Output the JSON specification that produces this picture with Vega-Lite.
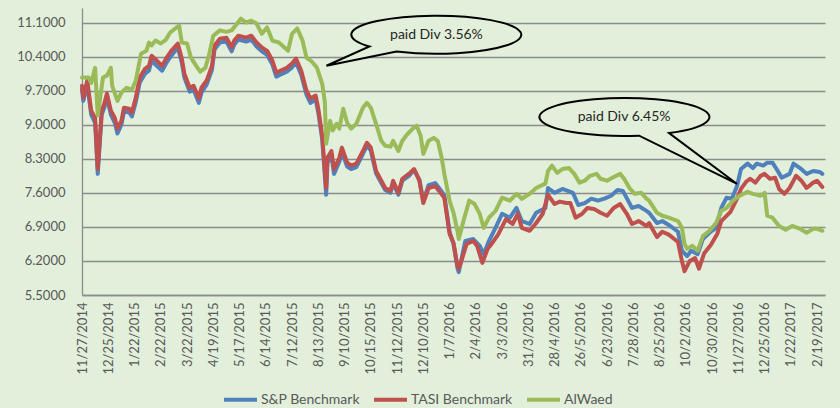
{
  "$schema": "https://vega.github.io/schema/vega-lite/v6.json",
  "width": 743,
  "height": 287,
  "autosize": {"type": "none"},
  "padding": {"left": 82, "top": 8, "right": 15, "bottom": 113},
  "background": "#E2EFDA",
  "config": {"view": {"stroke": null}, "font": "Lato"},
  "datasets": {
    "series": [
      {"series":"S&P Benchmark","i":0,"value":9.72},{"series":"S&P Benchmark","i":1,"value":9.49},{"series":"S&P Benchmark","i":4,"value":9.83},{"series":"S&P Benchmark","i":7,"value":9.21},{"series":"S&P Benchmark","i":10,"value":9.04},{"series":"S&P Benchmark","i":12,"value":7.99},{"series":"S&P Benchmark","i":15,"value":9.21},{"series":"S&P Benchmark","i":17,"value":9.35},{"series":"S&P Benchmark","i":19,"value":9.56},{"series":"S&P Benchmark","i":22,"value":9.21},{"series":"S&P Benchmark","i":25,"value":9.04},{"series":"S&P Benchmark","i":27,"value":8.82},{"series":"S&P Benchmark","i":30,"value":9.0},{"series":"S&P Benchmark","i":32,"value":9.27},{"series":"S&P Benchmark","i":36,"value":9.25},{"series":"S&P Benchmark","i":38,"value":9.17},{"series":"S&P Benchmark","i":41,"value":9.47},{"series":"S&P Benchmark","i":44,"value":9.87},{"series":"S&P Benchmark","i":48,"value":10.05},{"series":"S&P Benchmark","i":51,"value":10.11},{"series":"S&P Benchmark","i":53,"value":10.32},{"series":"S&P Benchmark","i":57,"value":10.21},{"series":"S&P Benchmark","i":61,"value":10.11},{"series":"S&P Benchmark","i":64,"value":10.26},{"series":"S&P Benchmark","i":68,"value":10.42},{"series":"S&P Benchmark","i":73,"value":10.59},{"series":"S&P Benchmark","i":76,"value":10.28},{"series":"S&P Benchmark","i":78,"value":9.97},{"series":"S&P Benchmark","i":82,"value":9.68},{"series":"S&P Benchmark","i":85,"value":9.72},{"series":"S&P Benchmark","i":89,"value":9.45},{"series":"S&P Benchmark","i":91,"value":9.66},{"series":"S&P Benchmark","i":95,"value":9.83},{"series":"S&P Benchmark","i":99,"value":10.13},{"series":"S&P Benchmark","i":101,"value":10.55},{"series":"S&P Benchmark","i":105,"value":10.69},{"series":"S&P Benchmark","i":110,"value":10.71},{"series":"S&P Benchmark","i":114,"value":10.51},{"series":"S&P Benchmark","i":116,"value":10.65},{"series":"S&P Benchmark","i":119,"value":10.75},{"series":"S&P Benchmark","i":125,"value":10.71},{"series":"S&P Benchmark","i":129,"value":10.75},{"series":"S&P Benchmark","i":133,"value":10.61},{"series":"S&P Benchmark","i":137,"value":10.51},{"series":"S&P Benchmark","i":141,"value":10.44},{"series":"S&P Benchmark","i":145,"value":10.24},{"series":"S&P Benchmark","i":148,"value":9.99},{"series":"S&P Benchmark","i":151,"value":10.03},{"series":"S&P Benchmark","i":156,"value":10.09},{"series":"S&P Benchmark","i":160,"value":10.18},{"series":"S&P Benchmark","i":163,"value":10.28},{"series":"S&P Benchmark","i":167,"value":10.03},{"series":"S&P Benchmark","i":171,"value":9.62},{"series":"S&P Benchmark","i":174,"value":9.45},{"series":"S&P Benchmark","i":178,"value":9.52},{"series":"S&P Benchmark","i":180,"value":9.25},{"series":"S&P Benchmark","i":183,"value":8.69},{"series":"S&P Benchmark","i":186,"value":7.56},{"series":"S&P Benchmark","i":187,"value":8.22},{"series":"S&P Benchmark","i":190,"value":8.36},{"series":"S&P Benchmark","i":192,"value":7.99},{"series":"S&P Benchmark","i":196,"value":8.24},{"series":"S&P Benchmark","i":198,"value":8.44},{"series":"S&P Benchmark","i":202,"value":8.14},{"series":"S&P Benchmark","i":205,"value":8.09},{"series":"S&P Benchmark","i":209,"value":8.13},{"series":"S&P Benchmark","i":214,"value":8.4},{"series":"S&P Benchmark","i":217,"value":8.57},{"series":"S&P Benchmark","i":220,"value":8.47},{"series":"S&P Benchmark","i":224,"value":8.0},{"series":"S&P Benchmark","i":228,"value":7.8},{"series":"S&P Benchmark","i":231,"value":7.66},{"series":"S&P Benchmark","i":235,"value":7.6},{"series":"S&P Benchmark","i":237,"value":7.8},{"series":"S&P Benchmark","i":241,"value":7.56},{"series":"S&P Benchmark","i":244,"value":7.85},{"series":"S&P Benchmark","i":249,"value":7.95},{"series":"S&P Benchmark","i":253,"value":8.07},{"series":"S&P Benchmark","i":257,"value":7.87},{"series":"S&P Benchmark","i":260,"value":7.43},{"series":"S&P Benchmark","i":264,"value":7.76},{"series":"S&P Benchmark","i":269,"value":7.8},{"series":"S&P Benchmark","i":272,"value":7.7},{"series":"S&P Benchmark","i":276,"value":7.55},{"series":"S&P Benchmark","i":280,"value":6.8},{"series":"S&P Benchmark","i":283,"value":6.55},{"series":"S&P Benchmark","i":286,"value":6.06},{"series":"S&P Benchmark","i":287,"value":5.97},{"series":"S&P Benchmark","i":292,"value":6.61},{"series":"S&P Benchmark","i":298,"value":6.65},{"series":"S&P Benchmark","i":303,"value":6.51},{"series":"S&P Benchmark","i":306,"value":6.34},{"series":"S&P Benchmark","i":310,"value":6.61},{"series":"S&P Benchmark","i":315,"value":6.88},{"series":"S&P Benchmark","i":320,"value":7.17},{"series":"S&P Benchmark","i":326,"value":7.09},{"series":"S&P Benchmark","i":331,"value":7.29},{"series":"S&P Benchmark","i":335,"value":7.02},{"series":"S&P Benchmark","i":341,"value":6.96},{"series":"S&P Benchmark","i":346,"value":7.19},{"series":"S&P Benchmark","i":353,"value":7.29},{"series":"S&P Benchmark","i":355,"value":7.7},{"series":"S&P Benchmark","i":360,"value":7.6},{"series":"S&P Benchmark","i":366,"value":7.68},{"series":"S&P Benchmark","i":370,"value":7.64},{"series":"S&P Benchmark","i":374,"value":7.6},{"series":"S&P Benchmark","i":378,"value":7.35},{"series":"S&P Benchmark","i":383,"value":7.39},{"series":"S&P Benchmark","i":388,"value":7.48},{"series":"S&P Benchmark","i":393,"value":7.44},{"series":"S&P Benchmark","i":398,"value":7.48},{"series":"S&P Benchmark","i":403,"value":7.54},{"series":"S&P Benchmark","i":408,"value":7.66},{"series":"S&P Benchmark","i":412,"value":7.64},{"series":"S&P Benchmark","i":416,"value":7.44},{"series":"S&P Benchmark","i":419,"value":7.29},{"series":"S&P Benchmark","i":424,"value":7.33},{"series":"S&P Benchmark","i":430,"value":7.23},{"series":"S&P Benchmark","i":432,"value":7.19},{"series":"S&P Benchmark","i":438,"value":6.98},{"series":"S&P Benchmark","i":442,"value":7.02},{"series":"S&P Benchmark","i":447,"value":6.94},{"series":"S&P Benchmark","i":454,"value":6.8},{"series":"S&P Benchmark","i":457,"value":6.41},{"series":"S&P Benchmark","i":461,"value":6.3},{"series":"S&P Benchmark","i":464,"value":6.41},{"series":"S&P Benchmark","i":469,"value":6.34},{"series":"S&P Benchmark","i":473,"value":6.65},{"series":"S&P Benchmark","i":478,"value":6.78},{"series":"S&P Benchmark","i":483,"value":6.88},{"series":"S&P Benchmark","i":487,"value":7.29},{"series":"S&P Benchmark","i":491,"value":7.5},{"series":"S&P Benchmark","i":495,"value":7.48},{"series":"S&P Benchmark","i":499,"value":7.74},{"series":"S&P Benchmark","i":502,"value":8.09},{"series":"S&P Benchmark","i":507,"value":8.2},{"series":"S&P Benchmark","i":511,"value":8.11},{"series":"S&P Benchmark","i":514,"value":8.2},{"series":"S&P Benchmark","i":519,"value":8.16},{"series":"S&P Benchmark","i":522,"value":8.22},{"series":"S&P Benchmark","i":526,"value":8.22},{"series":"S&P Benchmark","i":530,"value":8.05},{"series":"S&P Benchmark","i":533,"value":7.91},{"series":"S&P Benchmark","i":539,"value":7.99},{"series":"S&P Benchmark","i":542,"value":8.2},{"series":"S&P Benchmark","i":547,"value":8.11},{"series":"S&P Benchmark","i":552,"value":7.99},{"series":"S&P Benchmark","i":557,"value":8.05},{"series":"S&P Benchmark","i":562,"value":8.03},{"series":"S&P Benchmark","i":564,"value":7.99},
      {"series":"TASI Benchmark","i":0,"value":9.8},{"series":"TASI Benchmark","i":1,"value":9.56},{"series":"TASI Benchmark","i":4,"value":9.91},{"series":"TASI Benchmark","i":7,"value":9.29},{"series":"TASI Benchmark","i":10,"value":9.14},{"series":"TASI Benchmark","i":12,"value":8.09},{"series":"TASI Benchmark","i":15,"value":9.29},{"series":"TASI Benchmark","i":17,"value":9.43},{"series":"TASI Benchmark","i":19,"value":9.64},{"series":"TASI Benchmark","i":22,"value":9.29},{"series":"TASI Benchmark","i":25,"value":9.14},{"series":"TASI Benchmark","i":27,"value":8.92},{"series":"TASI Benchmark","i":30,"value":9.08},{"series":"TASI Benchmark","i":32,"value":9.35},{"series":"TASI Benchmark","i":36,"value":9.33},{"series":"TASI Benchmark","i":38,"value":9.25},{"series":"TASI Benchmark","i":41,"value":9.56},{"series":"TASI Benchmark","i":44,"value":9.97},{"series":"TASI Benchmark","i":48,"value":10.15},{"series":"TASI Benchmark","i":51,"value":10.21},{"series":"TASI Benchmark","i":53,"value":10.42},{"series":"TASI Benchmark","i":57,"value":10.32},{"series":"TASI Benchmark","i":61,"value":10.21},{"series":"TASI Benchmark","i":64,"value":10.36},{"series":"TASI Benchmark","i":68,"value":10.52},{"series":"TASI Benchmark","i":73,"value":10.67},{"series":"TASI Benchmark","i":76,"value":10.36},{"series":"TASI Benchmark","i":78,"value":10.05},{"series":"TASI Benchmark","i":82,"value":9.76},{"series":"TASI Benchmark","i":85,"value":9.8},{"series":"TASI Benchmark","i":89,"value":9.54},{"series":"TASI Benchmark","i":91,"value":9.76},{"series":"TASI Benchmark","i":95,"value":9.91},{"series":"TASI Benchmark","i":99,"value":10.21},{"series":"TASI Benchmark","i":101,"value":10.63},{"series":"TASI Benchmark","i":105,"value":10.77},{"series":"TASI Benchmark","i":110,"value":10.79},{"series":"TASI Benchmark","i":114,"value":10.59},{"series":"TASI Benchmark","i":116,"value":10.73},{"series":"TASI Benchmark","i":119,"value":10.83},{"series":"TASI Benchmark","i":125,"value":10.79},{"series":"TASI Benchmark","i":129,"value":10.83},{"series":"TASI Benchmark","i":133,"value":10.69},{"series":"TASI Benchmark","i":137,"value":10.59},{"series":"TASI Benchmark","i":141,"value":10.52},{"series":"TASI Benchmark","i":145,"value":10.32},{"series":"TASI Benchmark","i":148,"value":10.07},{"series":"TASI Benchmark","i":151,"value":10.11},{"series":"TASI Benchmark","i":156,"value":10.17},{"series":"TASI Benchmark","i":160,"value":10.26},{"series":"TASI Benchmark","i":163,"value":10.36},{"series":"TASI Benchmark","i":167,"value":10.11},{"series":"TASI Benchmark","i":171,"value":9.7},{"series":"TASI Benchmark","i":174,"value":9.54},{"series":"TASI Benchmark","i":178,"value":9.6},{"series":"TASI Benchmark","i":180,"value":9.33},{"series":"TASI Benchmark","i":183,"value":8.77},{"series":"TASI Benchmark","i":186,"value":7.7},{"series":"TASI Benchmark","i":187,"value":8.32},{"series":"TASI Benchmark","i":190,"value":8.46},{"series":"TASI Benchmark","i":192,"value":8.09},{"series":"TASI Benchmark","i":196,"value":8.32},{"series":"TASI Benchmark","i":198,"value":8.53},{"series":"TASI Benchmark","i":202,"value":8.22},{"series":"TASI Benchmark","i":205,"value":8.16},{"series":"TASI Benchmark","i":209,"value":8.2},{"series":"TASI Benchmark","i":214,"value":8.46},{"series":"TASI Benchmark","i":217,"value":8.63},{"series":"TASI Benchmark","i":220,"value":8.53},{"series":"TASI Benchmark","i":224,"value":8.05},{"series":"TASI Benchmark","i":228,"value":7.85},{"series":"TASI Benchmark","i":231,"value":7.7},{"series":"TASI Benchmark","i":235,"value":7.64},{"series":"TASI Benchmark","i":237,"value":7.85},{"series":"TASI Benchmark","i":241,"value":7.6},{"series":"TASI Benchmark","i":244,"value":7.89},{"series":"TASI Benchmark","i":249,"value":7.99},{"series":"TASI Benchmark","i":253,"value":8.09},{"series":"TASI Benchmark","i":257,"value":7.85},{"series":"TASI Benchmark","i":260,"value":7.39},{"series":"TASI Benchmark","i":264,"value":7.7},{"series":"TASI Benchmark","i":269,"value":7.74},{"series":"TASI Benchmark","i":272,"value":7.64},{"series":"TASI Benchmark","i":276,"value":7.5},{"series":"TASI Benchmark","i":280,"value":6.76},{"series":"TASI Benchmark","i":283,"value":6.57},{"series":"TASI Benchmark","i":286,"value":6.1},{"series":"TASI Benchmark","i":287,"value":6.04},{"series":"TASI Benchmark","i":289,"value":6.2},{"series":"TASI Benchmark","i":293,"value":6.55},{"series":"TASI Benchmark","i":298,"value":6.61},{"series":"TASI Benchmark","i":301,"value":6.51},{"series":"TASI Benchmark","i":305,"value":6.16},{"series":"TASI Benchmark","i":309,"value":6.45},{"series":"TASI Benchmark","i":312,"value":6.55},{"series":"TASI Benchmark","i":317,"value":6.74},{"series":"TASI Benchmark","i":323,"value":7.06},{"series":"TASI Benchmark","i":328,"value":6.96},{"series":"TASI Benchmark","i":332,"value":7.17},{"series":"TASI Benchmark","i":335,"value":6.88},{"series":"TASI Benchmark","i":341,"value":6.82},{"series":"TASI Benchmark","i":346,"value":6.98},{"series":"TASI Benchmark","i":351,"value":7.17},{"series":"TASI Benchmark","i":355,"value":7.56},{"series":"TASI Benchmark","i":360,"value":7.37},{"series":"TASI Benchmark","i":364,"value":7.42},{"series":"TASI Benchmark","i":369,"value":7.39},{"series":"TASI Benchmark","i":372,"value":7.39},{"series":"TASI Benchmark","i":376,"value":7.09},{"series":"TASI Benchmark","i":381,"value":7.17},{"series":"TASI Benchmark","i":385,"value":7.29},{"series":"TASI Benchmark","i":390,"value":7.27},{"series":"TASI Benchmark","i":395,"value":7.19},{"series":"TASI Benchmark","i":400,"value":7.13},{"series":"TASI Benchmark","i":405,"value":7.29},{"series":"TASI Benchmark","i":410,"value":7.37},{"series":"TASI Benchmark","i":415,"value":7.17},{"series":"TASI Benchmark","i":419,"value":6.96},{"series":"TASI Benchmark","i":424,"value":7.02},{"series":"TASI Benchmark","i":430,"value":6.92},{"series":"TASI Benchmark","i":432,"value":6.98},{"series":"TASI Benchmark","i":438,"value":6.69},{"series":"TASI Benchmark","i":442,"value":6.8},{"series":"TASI Benchmark","i":447,"value":6.74},{"series":"TASI Benchmark","i":454,"value":6.59},{"series":"TASI Benchmark","i":457,"value":6.2},{"series":"TASI Benchmark","i":459,"value":5.99},{"series":"TASI Benchmark","i":463,"value":6.2},{"series":"TASI Benchmark","i":467,"value":6.26},{"series":"TASI Benchmark","i":470,"value":6.04},{"series":"TASI Benchmark","i":474,"value":6.36},{"series":"TASI Benchmark","i":479,"value":6.53},{"series":"TASI Benchmark","i":484,"value":6.76},{"series":"TASI Benchmark","i":487,"value":7.02},{"series":"TASI Benchmark","i":494,"value":7.21},{"series":"TASI Benchmark","i":499,"value":7.48},{"series":"TASI Benchmark","i":502,"value":7.68},{"series":"TASI Benchmark","i":506,"value":7.83},{"series":"TASI Benchmark","i":509,"value":7.89},{"series":"TASI Benchmark","i":513,"value":7.81},{"series":"TASI Benchmark","i":517,"value":7.95},{"series":"TASI Benchmark","i":520,"value":7.99},{"series":"TASI Benchmark","i":524,"value":7.89},{"series":"TASI Benchmark","i":528,"value":7.91},{"series":"TASI Benchmark","i":531,"value":7.68},{"series":"TASI Benchmark","i":535,"value":7.58},{"series":"TASI Benchmark","i":539,"value":7.7},{"series":"TASI Benchmark","i":544,"value":7.95},{"series":"TASI Benchmark","i":548,"value":7.85},{"series":"TASI Benchmark","i":552,"value":7.7},{"series":"TASI Benchmark","i":557,"value":7.81},{"series":"TASI Benchmark","i":560,"value":7.85},{"series":"TASI Benchmark","i":564,"value":7.72},
      {"series":"AlWaed","i":0,"value":9.97},{"series":"AlWaed","i":5,"value":9.97},{"series":"AlWaed","i":7,"value":9.86},{"series":"AlWaed","i":10,"value":10.17},{"series":"AlWaed","i":12,"value":9.19},{"series":"AlWaed","i":16,"value":9.97},{"series":"AlWaed","i":19,"value":10.01},{"series":"AlWaed","i":22,"value":10.17},{"series":"AlWaed","i":23,"value":9.8},{"series":"AlWaed","i":27,"value":9.49},{"series":"AlWaed","i":30,"value":9.66},{"series":"AlWaed","i":34,"value":9.76},{"series":"AlWaed","i":38,"value":9.72},{"series":"AlWaed","i":41,"value":9.91},{"series":"AlWaed","i":45,"value":10.46},{"series":"AlWaed","i":49,"value":10.52},{"series":"AlWaed","i":51,"value":10.69},{"series":"AlWaed","i":53,"value":10.63},{"series":"AlWaed","i":56,"value":10.73},{"series":"AlWaed","i":60,"value":10.67},{"series":"AlWaed","i":64,"value":10.75},{"series":"AlWaed","i":67,"value":10.89},{"series":"AlWaed","i":72,"value":11.0},{"series":"AlWaed","i":74,"value":11.04},{"series":"AlWaed","i":76,"value":10.69},{"series":"AlWaed","i":80,"value":10.67},{"series":"AlWaed","i":83,"value":10.38},{"series":"AlWaed","i":87,"value":10.21},{"series":"AlWaed","i":90,"value":10.09},{"series":"AlWaed","i":94,"value":10.17},{"series":"AlWaed","i":97,"value":10.46},{"series":"AlWaed","i":100,"value":10.83},{"series":"AlWaed","i":105,"value":10.94},{"series":"AlWaed","i":110,"value":10.91},{"series":"AlWaed","i":114,"value":10.94},{"series":"AlWaed","i":117,"value":11.04},{"series":"AlWaed","i":121,"value":11.18},{"series":"AlWaed","i":125,"value":11.1},{"series":"AlWaed","i":129,"value":11.14},{"series":"AlWaed","i":133,"value":11.08},{"series":"AlWaed","i":137,"value":10.87},{"series":"AlWaed","i":141,"value":11.0},{"series":"AlWaed","i":145,"value":10.73},{"series":"AlWaed","i":150,"value":10.69},{"series":"AlWaed","i":157,"value":10.52},{"series":"AlWaed","i":160,"value":10.87},{"series":"AlWaed","i":164,"value":10.98},{"series":"AlWaed","i":168,"value":10.73},{"series":"AlWaed","i":171,"value":10.38},{"series":"AlWaed","i":175,"value":10.3},{"series":"AlWaed","i":179,"value":10.17},{"series":"AlWaed","i":183,"value":9.84},{"series":"AlWaed","i":185,"value":9.47},{"series":"AlWaed","i":186,"value":8.61},{"series":"AlWaed","i":189,"value":9.08},{"series":"AlWaed","i":191,"value":8.88},{"series":"AlWaed","i":194,"value":9.02},{"series":"AlWaed","i":196,"value":8.92},{"series":"AlWaed","i":199,"value":9.33},{"series":"AlWaed","i":202,"value":9.04},{"series":"AlWaed","i":205,"value":8.92},{"series":"AlWaed","i":209,"value":9.02},{"series":"AlWaed","i":214,"value":9.35},{"series":"AlWaed","i":217,"value":9.45},{"series":"AlWaed","i":220,"value":9.35},{"series":"AlWaed","i":224,"value":9.02},{"series":"AlWaed","i":228,"value":8.67},{"series":"AlWaed","i":231,"value":8.57},{"series":"AlWaed","i":235,"value":8.55},{"series":"AlWaed","i":237,"value":8.67},{"series":"AlWaed","i":241,"value":8.46},{"series":"AlWaed","i":244,"value":8.67},{"series":"AlWaed","i":248,"value":8.81},{"series":"AlWaed","i":252,"value":8.92},{"series":"AlWaed","i":255,"value":8.98},{"series":"AlWaed","i":258,"value":8.77},{"series":"AlWaed","i":260,"value":8.4},{"series":"AlWaed","i":264,"value":8.67},{"series":"AlWaed","i":268,"value":8.73},{"series":"AlWaed","i":271,"value":8.67},{"series":"AlWaed","i":274,"value":8.32},{"series":"AlWaed","i":276,"value":7.99},{"series":"AlWaed","i":280,"value":7.44},{"series":"AlWaed","i":283,"value":7.19},{"series":"AlWaed","i":286,"value":6.82},{"series":"AlWaed","i":287,"value":6.65},{"series":"AlWaed","i":291,"value":7.06},{"series":"AlWaed","i":295,"value":7.44},{"series":"AlWaed","i":299,"value":7.37},{"series":"AlWaed","i":303,"value":7.17},{"series":"AlWaed","i":306,"value":6.88},{"series":"AlWaed","i":310,"value":7.09},{"series":"AlWaed","i":315,"value":7.23},{"series":"AlWaed","i":320,"value":7.5},{"series":"AlWaed","i":326,"value":7.44},{"series":"AlWaed","i":331,"value":7.58},{"series":"AlWaed","i":335,"value":7.48},{"series":"AlWaed","i":341,"value":7.58},{"series":"AlWaed","i":346,"value":7.7},{"series":"AlWaed","i":353,"value":7.79},{"series":"AlWaed","i":355,"value":8.05},{"series":"AlWaed","i":358,"value":8.16},{"series":"AlWaed","i":362,"value":8.01},{"series":"AlWaed","i":366,"value":8.09},{"series":"AlWaed","i":371,"value":8.11},{"series":"AlWaed","i":375,"value":7.99},{"series":"AlWaed","i":379,"value":7.81},{"series":"AlWaed","i":383,"value":7.85},{"series":"AlWaed","i":387,"value":7.95},{"series":"AlWaed","i":392,"value":7.99},{"series":"AlWaed","i":395,"value":7.89},{"series":"AlWaed","i":400,"value":7.85},{"series":"AlWaed","i":404,"value":7.91},{"series":"AlWaed","i":410,"value":7.99},{"series":"AlWaed","i":413,"value":7.89},{"series":"AlWaed","i":417,"value":7.7},{"series":"AlWaed","i":421,"value":7.58},{"series":"AlWaed","i":426,"value":7.6},{"series":"AlWaed","i":430,"value":7.48},{"series":"AlWaed","i":432,"value":7.44},{"series":"AlWaed","i":438,"value":7.19},{"series":"AlWaed","i":442,"value":7.13},{"series":"AlWaed","i":447,"value":7.09},{"series":"AlWaed","i":454,"value":7.02},{"series":"AlWaed","i":457,"value":6.88},{"series":"AlWaed","i":459,"value":6.55},{"series":"AlWaed","i":461,"value":6.45},{"series":"AlWaed","i":465,"value":6.51},{"series":"AlWaed","i":469,"value":6.41},{"series":"AlWaed","i":473,"value":6.71},{"series":"AlWaed","i":478,"value":6.82},{"series":"AlWaed","i":483,"value":6.98},{"series":"AlWaed","i":487,"value":7.23},{"series":"AlWaed","i":491,"value":7.29},{"series":"AlWaed","i":496,"value":7.44},{"series":"AlWaed","i":501,"value":7.54},{"series":"AlWaed","i":507,"value":7.62},{"series":"AlWaed","i":511,"value":7.58},{"series":"AlWaed","i":517,"value":7.54},{"series":"AlWaed","i":520,"value":7.6},{"series":"AlWaed","i":522,"value":7.13},{"series":"AlWaed","i":526,"value":7.09},{"series":"AlWaed","i":531,"value":6.92},{"series":"AlWaed","i":536,"value":6.84},{"series":"AlWaed","i":541,"value":6.92},{"series":"AlWaed","i":547,"value":6.86},{"series":"AlWaed","i":552,"value":6.78},{"series":"AlWaed","i":557,"value":6.86},{"series":"AlWaed","i":560,"value":6.86},{"series":"AlWaed","i":564,"value":6.82}
    ],
    "notes": [
      {"note": 1, "i": 270, "value": 10.85, "label": "paid Div 3.56%"},
      {"note": 2, "i": 413, "value": 9.16, "label": "paid Div 6.45%"}
    ]
  },
  "layer": [
    {
      "data": {"name": "series"},
      "mark": {"type": "line", "strokeWidth": 4, "strokeJoin": "round", "strokeCap": "round"},
      "encoding": {
        "x": {
          "field": "i", "type": "quantitative",
          "scale": {"domain": [0, 566], "nice": false, "zero": false},
          "axis": {
            "title": null, "grid": false, "ticks": false, "tickCount": 100,
            "values": [0,20,40,60,80,100,120,140,160,180,200,220,240,260,280,300,320,340,360,380,400,420,440,460,480,500,520,540,560],
            "labelExpr": "['11/27/2014','12/25/2014','1/22/2015','2/22/2015','3/22/2015','4/19/2015','5/17/2015','6/14/2015','7/12/2015','8/13/2015','9/10/2015','10/15/2015','11/12/2015','12/10/2015','1/7/2016','2/4/2016','3/3/2016','31/3/2016','28/4/2016','26/5/2016','6/23/2016','7/28/2016','8/25/2016','10/2/2016','10/30/2016','11/27/2016','12/25/2016','1/22/2017','2/19/2017'][round(datum.value/20)]",
            "labelAngle": 270, "labelFontSize": 13, "labelColor": "#595959", "labelPadding": 7,
            "labelOverlap": false, "labelFlush": false,
            "domainColor": "#8C8C8C", "domainWidth": 1.3
          }
        },
        "y": {
          "field": "value", "type": "quantitative",
          "scale": {"domain": [5.5, 11.4], "nice": false, "zero": false},
          "axis": {
            "title": null, "ticks": false, "tickCount": 100,
            "values": [5.5, 6.2, 6.9, 7.6, 8.3, 9.0, 9.7, 10.4, 11.1],
            "format": ".4f", "labelFontSize": 13, "labelColor": "#595959", "labelPadding": 17,
            "labelOverlap": false,
            "grid": true, "gridColor": "#8C8C8C", "gridWidth": 1.3,
            "domainColor": "#8C8C8C", "domainWidth": 1.3
          }
        },
        "color": {
          "field": "series", "type": "nominal",
          "scale": {"domain": ["S&P Benchmark", "TASI Benchmark", "AlWaed"], "range": ["#4F81BD", "#C0504D", "#9BBB59"]},
          "legend": {
            "orient": "none", "legendX": 140, "legendY": 373, "direction": "horizontal", "title": null,
            "symbolType": "stroke", "symbolSize": 1089, "symbolStrokeWidth": 4,
            "labelFontSize": 14, "labelColor": "#595959", "columnPadding": 6, "labelOffset": 2
          }
        }
      }
    },
    {
      "data": {"name": "notes"},
      "transform": [{"filter": "datum.note == 1"}],
      "mark": {"type": "point", "shape": "M -0.47 0.197 A 1 0.2235 0 1 0 -0.788 0.1376 L -1.294 0.365 Z", "size": 28900, "filled": true, "fill": "#E2EFDA", "stroke": "#000000", "strokeWidth": 2, "opacity": 1},
      "encoding": {"x": {"field": "i", "type": "quantitative"}, "y": {"field": "value", "type": "quantitative"}}
    },
    {
      "data": {"name": "notes"},
      "transform": [{"filter": "datum.note == 2"}],
      "mark": {"type": "point", "shape": "M 0.529 0.19 A 1 0.2235 0 1 0 0.176 0.22 L 1.329 0.788 Z", "size": 28900, "filled": true, "fill": "#E2EFDA", "stroke": "#000000", "strokeWidth": 2, "opacity": 1},
      "encoding": {"x": {"field": "i", "type": "quantitative"}, "y": {"field": "value", "type": "quantitative"}}
    },
    {
      "data": {"name": "notes"},
      "mark": {"type": "text", "fontSize": 14, "color": "#262626", "font": "Lato"},
      "encoding": {"x": {"field": "i", "type": "quantitative"}, "y": {"field": "value", "type": "quantitative"}, "text": {"field": "label"}}
    }
  ]
}
